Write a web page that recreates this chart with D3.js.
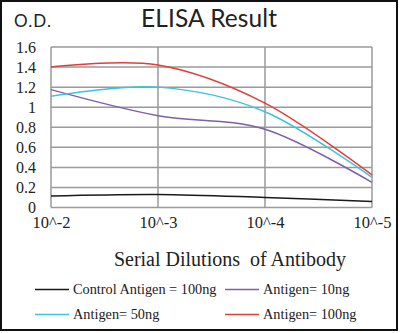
<!DOCTYPE html>
<html>
<head>
<meta charset="utf-8">
<script src="https://cdn.jsdelivr.net/npm/d3@7"></script>
<style>
  html, body { margin: 0; padding: 0; background: #fff; }
  svg { display: block; }
</style>
</head>
<body>
<svg id="chart" width="400" height="333"></svg>
<script>
const categories = ["10^-2", "10^-3", "10^-4", "10^-5"];
const yTicks = [0, 0.2, 0.4, 0.6, 0.8, 1, 1.2, 1.4, 1.6];
const seriesNames = ["Control Antigen = 100ng", "Antigen= 10ng", "Antigen= 50ng", "Antigen= 100ng"];
const controlValues = [0.115, 0.13, 0.10, 0.06];
const antigen10Values = [1.175, 0.915, 0.78, 0.25];
const antigen50Values = [1.11, 1.20, 0.955, 0.30];
const antigen100Values = [1.40, 1.42, 1.04, 0.325];
const seriesColors = ["#1a1a1a", "#7f5fa8", "#3ec3dd", "#de3f3b"];

const series = [controlValues, antigen10Values, antigen50Values, antigen100Values];

const svg = d3.select("#chart");

// outer frame
svg.append("rect").attr("x", 1).attr("y", 1).attr("width", 396).attr("height", 329)
  .attr("fill", "none").attr("stroke", "#111").attr("stroke-width", 2);

const x = d3.scalePoint().domain(categories).range([51, 372]);
const y = d3.scaleLinear().domain([0, 1.6]).range([207.5, 47]);

const grid = svg.append("g");
grid.selectAll("line.h").data(yTicks).join("line")
  .attr("x1", 51).attr("x2", 372)
  .attr("y1", d => y(d)).attr("y2", d => y(d))
  .attr("stroke", "#9a9a9a").attr("stroke-width", 1.5);
grid.selectAll("line.v").data(categories).join("line")
  .attr("x1", d => x(d)).attr("x2", d => x(d))
  .attr("y1", y(1.6)).attr("y2", y(0))
  .attr("stroke", "#9a9a9a").attr("stroke-width", 1.5);

// y axis labels
const yAxis = d3.axisLeft(y).tickValues(yTicks).tickSize(0).tickPadding(15)
  .tickFormat(d => d3.format("")(+d.toFixed(1)));
const gy = svg.append("g").attr("transform", "translate(51,0)").call(yAxis);
gy.select(".domain").remove();
gy.selectAll("text").attr("font-family", "'Liberation Serif', serif").attr("font-size", 16).attr("fill", "#222");

// x axis labels
const xAxis = d3.axisBottom(x).tickSize(0).tickPadding(9);
const gx = svg.append("g").attr("transform", `translate(0,${y(0)})`).call(xAxis);
gx.select(".domain").remove();
gx.selectAll("text").attr("font-family", "'Liberation Serif', serif").attr("font-size", 16.5).attr("fill", "#222");

// lines
const line = d3.line()
  .x((d, i) => x(categories[i]))
  .y(d => y(d))
  .curve(d3.curveCatmullRom.alpha(0));

svg.append("g").selectAll("path").data(series).join("path")
  .attr("d", d => line(d))
  .attr("fill", "none")
  .attr("stroke", (d, i) => seriesColors[i])
  .attr("stroke-width", 1.5);

// titles
svg.append("text").attr("x", 209).attr("y", 27).attr("text-anchor", "middle")
  .attr("font-family", "Lato, 'Open Sans', sans-serif").attr("font-size", 24.5).attr("fill", "#222")
  .attr("textLength", 136).attr("lengthAdjust", "spacing")
  .text("ELISA Result");
svg.append("text").attr("x", 14).attr("y", 27)
  .attr("font-family", "Lato, 'Open Sans', sans-serif").attr("font-size", 17).attr("fill", "#222")
  .attr("textLength", 37).attr("lengthAdjust", "spacing")
  .text("O.D.");
svg.append("text").attr("x", 230).attr("y", 266).attr("text-anchor", "middle")
  .attr("font-family", "'Liberation Serif', serif").attr("font-size", 20).attr("fill", "#222")
  .attr("xml:space", "preserve")
  .text("Serial Dilutions  of Antibody");

// legend
const legendPos = [[35, 289.5], [225, 289.5], [35, 314.5], [225, 314.5]];
const lg = svg.append("g");
seriesNames.forEach((name, i) => {
  const [lx, ly] = legendPos[i];
  lg.append("line").attr("x1", lx).attr("x2", lx + 34).attr("y1", ly).attr("y2", ly)
    .attr("stroke", seriesColors[i]).attr("stroke-width", 1.5);
  lg.append("text").attr("x", lx + 38).attr("y", ly + 4.5)
    .attr("font-family", "'Liberation Serif', serif").attr("font-size", 14.3).attr("fill", "#222")
    .text(name);
});
</script>
</body>
</html>
